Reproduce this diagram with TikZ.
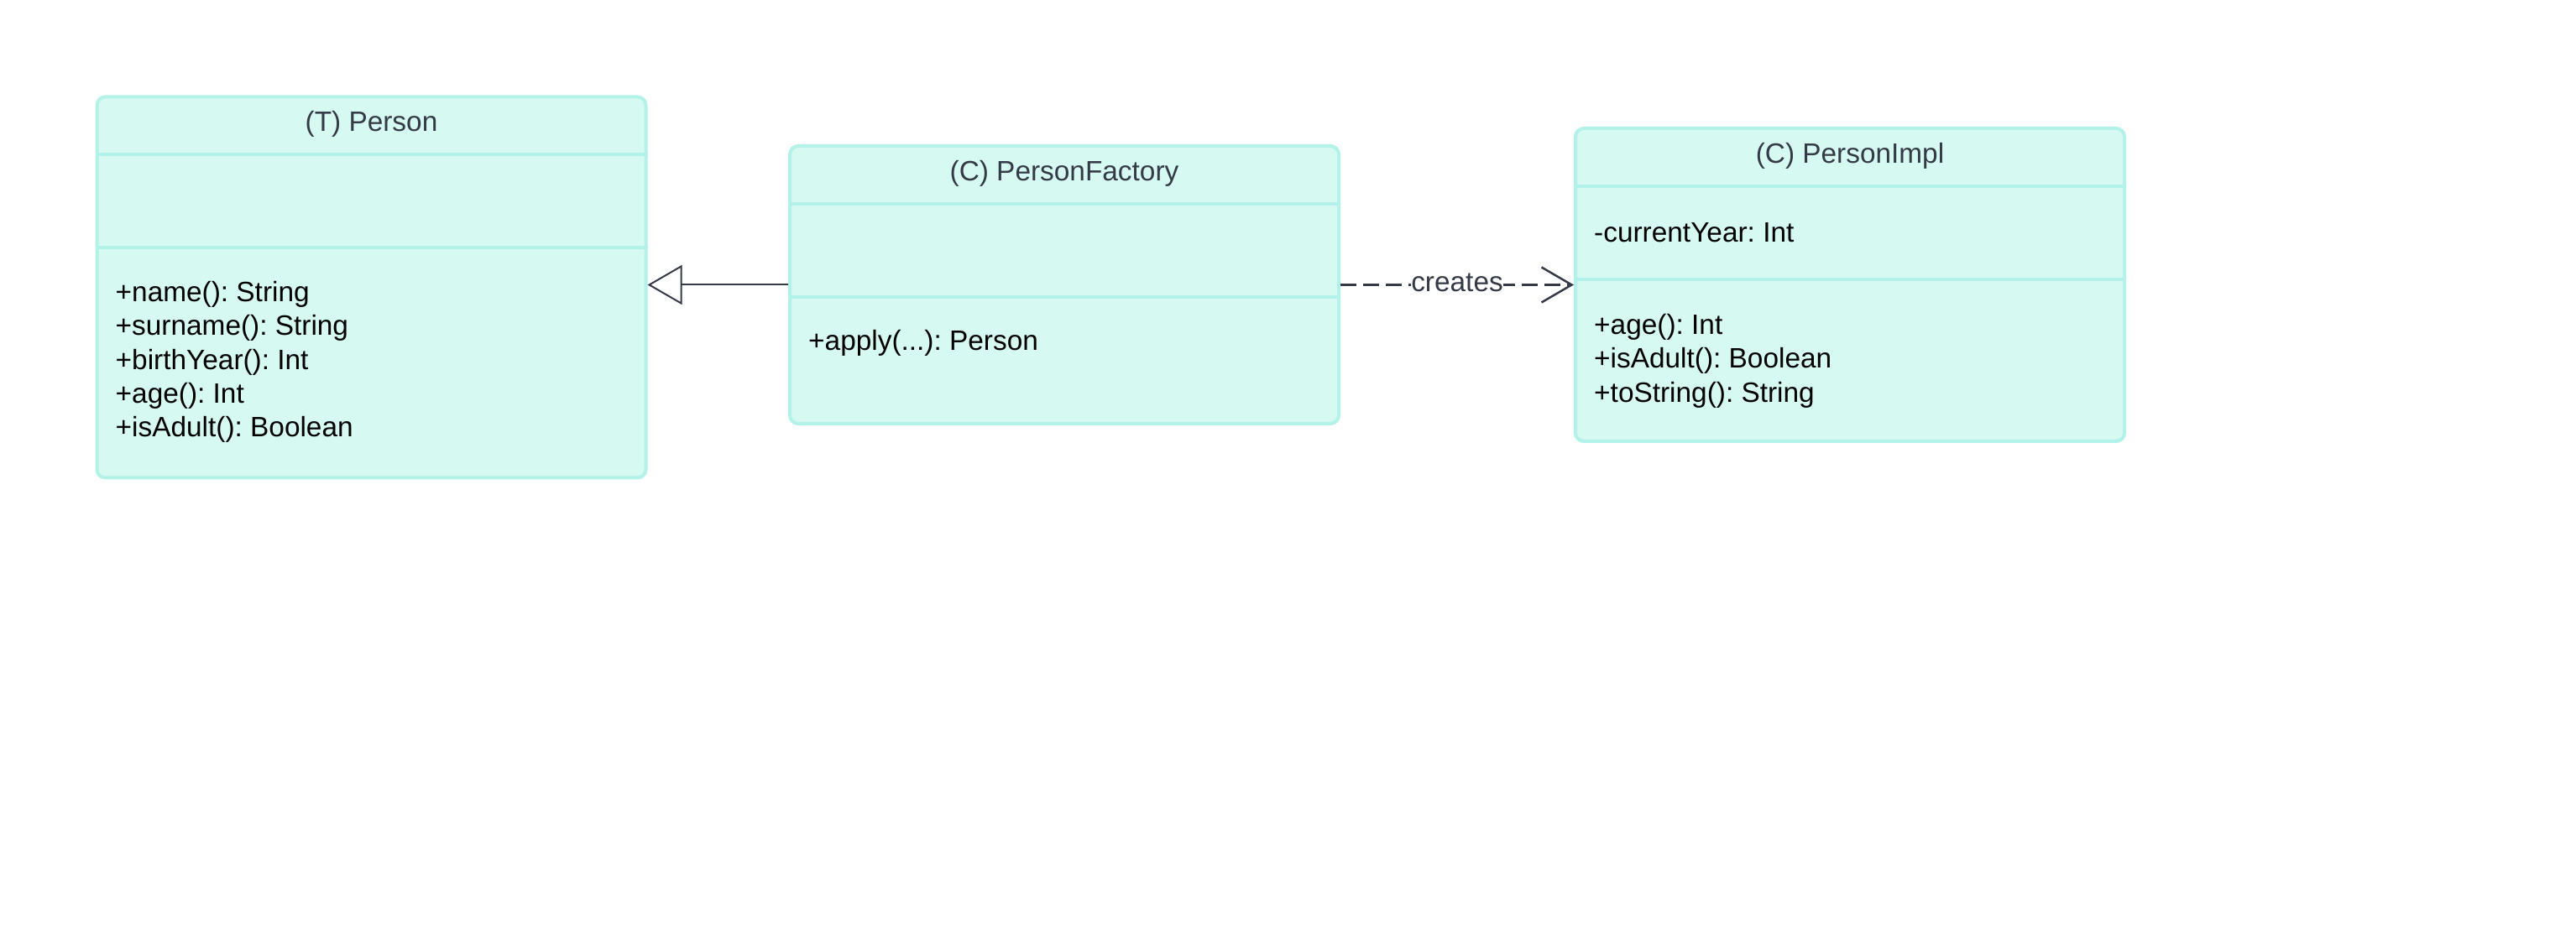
\documentclass[tikz,border=0pt]{standalone}
\usepackage{fontspec}
\setmainfont{Liberation Sans}
\frenchspacing
\usetikzlibrary{arrows.meta,positioning}
\definecolor{mintfill}{RGB}{214,249,242}
\definecolor{mintline}{RGB}{178,242,232}
\definecolor{slate}{RGB}{52,58,70}
\tikzset{every node/.style={font=\fontsize{9.5}{11.5}\selectfont},
  classbox/.style={draw=mintline,fill=mintfill,line width=0.04cm,rounded corners=0.1cm,minimum width=6.54cm,anchor=north west,inner sep=0},
  classname/.style={text=slate,inner sep=0},
  members/.style={align=left,anchor=west,inner sep=0},
  divider/.style={draw=mintline,line width=0.04cm},
  inherits/.style={draw=slate,line width=0.02cm,-{Triangle[open,length=0.41cm,width=0.47cm]}},
  creates/.style={draw=slate,line width=0.025cm,dash pattern=on 0.19cm off 0.08cm,-{Straight Barb[length=0.36cm,width=0.42cm]}}}

\begin{document}
\begin{tikzpicture}
    \useasboundingbox (0,0) rectangle (30.69,11.23);
    \node[classbox,minimum height=4.54cm] (person) at (1.135,10.095) {};
    \node[classbox,minimum height=3.31cm] (factory) at (9.39,9.51) {};
    \node[classbox,minimum height=3.73cm] (impl) at (18.75,9.72) {};
    \foreach \c in {person,factory,impl} {
        \draw[divider] ([yshift=-0.71cm]\c.north west) -- ([yshift=-0.71cm]\c.north east);
        \draw[divider] ([yshift=-1.82cm]\c.north west) -- ([yshift=-1.82cm]\c.north east);
    }
    \node[classname] (persontitle) at ([yshift=-0.345cm]person.north) {(T) Person};
    \node[classname] (factorytitle) at ([yshift=-0.345cm]factory.north) {(C) PersonFactory};
    \node[classname] (impltitle) at ([yshift=-0.345cm]impl.north) {(C) PersonImpl};
    \node[members] (personops) at ([xshift=0.235cm,yshift=-3.18cm]person.north west)
        {+name(): String\\+surname(): String\\+birthYear(): Int\\+age(): Int\\+isAdult(): Boolean};
    \node[members] (factoryops) at ([xshift=0.235cm,yshift=-2.37cm]factory.north west) {+apply(...): Person};
    \node[members] (implattr) at ([xshift=0.235cm,yshift=-1.26cm]impl.north west) {-currentYear: Int};
    \node[members] (implops) at ([xshift=0.235cm,yshift=-2.79cm]impl.north west)
        {+age(): Int\\+isAdult(): Boolean\\+toString(): String};
    \draw[inherits] (factory.west) -- (factory.west -| person.east);
    \draw[creates] (factory.east) -- node[fill=white,inner sep=0,text=slate,yshift=0.03cm] (createslabel) {creates} (factory.east -| impl.west);
\end{tikzpicture}
\end{document}
